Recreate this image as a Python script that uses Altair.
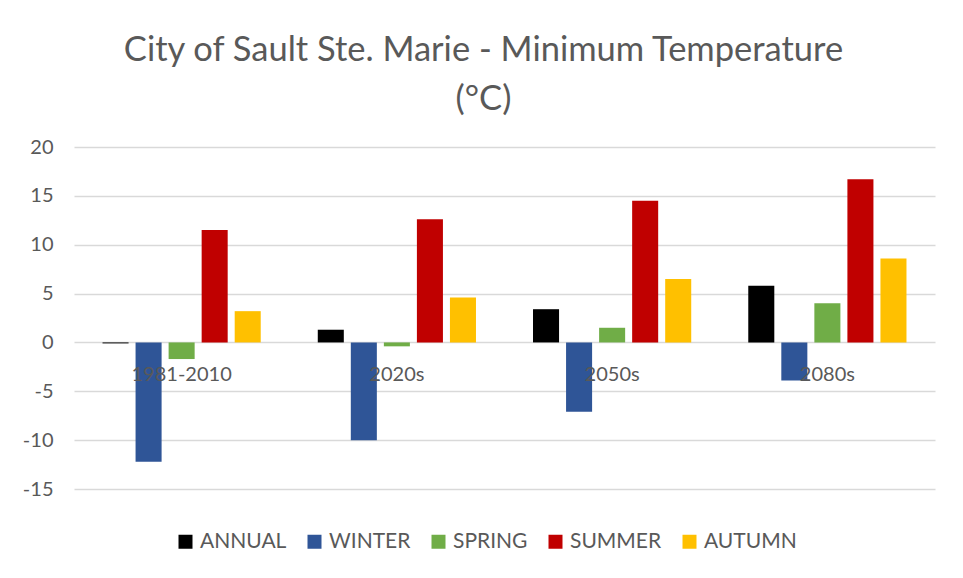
import altair as alt
import pandas as pd

periods = ["1981-2010", "2020s", "2050s", "2080s"]
series = ["ANNUAL", "WINTER", "SPRING", "SUMMER", "AUTUMN"]
annual = [-0.1, 1.3, 3.4, 5.8]
winter = [-12.2, -10.0, -7.1, -3.9]
spring = [-1.7, -0.4, 1.5, 4.0]
summer = [11.5, 12.6, 14.5, 16.7]
autumn = [3.2, 4.6, 6.5, 8.6]
colors = ["#000000", "#2F5597", "#70AD47", "#C00000", "#FFC000"]
y_ticks = [-15, -10, -5, 0, 5, 10, 15, 20]

rows = []
for name, vals in zip(series, [annual, winter, spring, summer, autumn]):
    for p, v in zip(periods, vals):
        rows.append({"period": p, "season": name, "value": v})
df = pd.DataFrame(rows)

FONT = "Lato"
GRAY = "#595959"

chart = alt.Chart(df).mark_bar().encode(
    x=alt.X("period:N", sort=periods, title=None,
            scale=alt.Scale(paddingInner=0.265, paddingOuter=0.1325),
            axis=alt.Axis(orient="bottom", offset=-147, domain=False, ticks=False,
                          grid=False, labelAngle=0, labelBaseline="middle",
                          labelPadding=32, labelFontSize=20, labelFont=FONT,
                          labelColor=GRAY, zindex=1)),
    xOffset=alt.XOffset("season:N", sort=series,
                        scale=alt.Scale(paddingInner=0.212, paddingOuter=0)),
    y=alt.Y("value:Q", title=None,
            scale=alt.Scale(domain=[-15, 20], nice=False),
            axis=alt.Axis(values=y_ticks, domain=False, ticks=False, grid=True,
                          gridColor="#D9D9D9", gridWidth=1.5, labelPadding=21,
                          labelExpr="toString(datum.value)",
                          labelFontSize=20, labelFont=FONT, labelColor=GRAY)),
    color=alt.Color("season:N", sort=series,
                    scale=alt.Scale(domain=series, range=colors),
                    legend=alt.Legend(title=None, orient="none", direction="horizontal",
                                      columns=5, legendX=101, legendY=384,
                                      symbolType="square", symbolSize=196,
                                      symbolStrokeWidth=0, labelOffset=4,
                                      columnPadding=17, labelFontSize=21,
                                      labelFont=FONT, labelColor=GRAY)),
).properties(
    width=861,
    height=342,
    title=alt.TitleParams(
        text=["City of Sault Ste. Marie - Minimum Temperature", "(°C)"],
        font=FONT, fontSize=34.5, fontWeight="normal", color=GRAY,
        anchor="middle", frame="group", dx=-21, offset=20, lineHeight=49),
    padding={"left": 66, "top": 139, "right": 18, "bottom": 78},
    autosize=alt.AutoSizeParams(type="none"),
).configure(background="white").configure_view(stroke=None)

chart.save("out.html", embed_options={"renderer": "svg", "actions": False})
